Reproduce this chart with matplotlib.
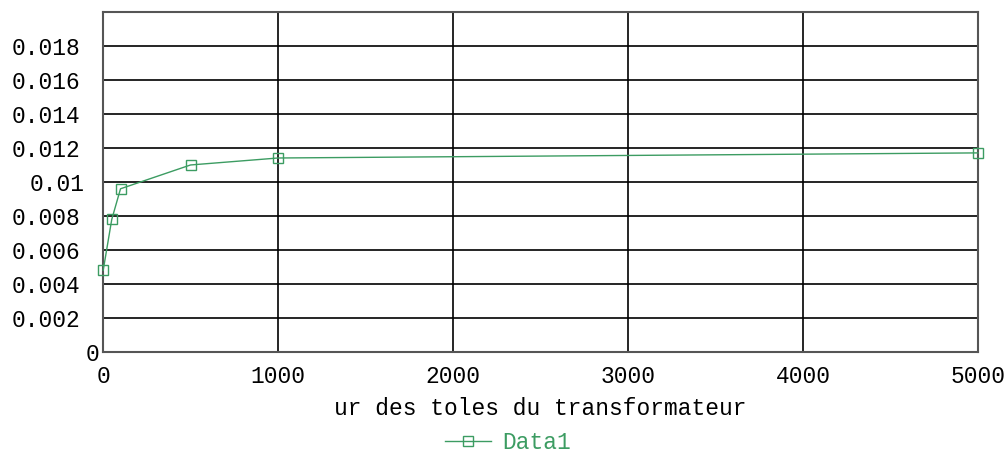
import matplotlib.pyplot as plt
from matplotlib.transforms import ScaledTranslation

# measured values
longueur = [1, 50, 100, 500, 1000, 5000]
valeurs = [0.0048, 0.0078, 0.0096, 0.0110, 0.01141, 0.01171]

xticks = [0, 1000, 2000, 3000, 4000, 5000]
yticks = [0, 0.002, 0.004, 0.006, 0.008, 0.01, 0.012, 0.014, 0.016, 0.018]
ylabels = ['0', '0.002', '0.004', '0.006', '0.008', '0.01', '0.012', '0.014', '0.016', '0.018']

green = '#3c9c62'
plt.rcParams['font.family'] = ['Liberation Mono', 'DejaVu Sans Mono']
fs = 16.5

fig = plt.figure(figsize=(10.06, 4.53), dpi=100)
ax = fig.add_axes([0.1024, 0.2230, 0.8698, 0.7506])

ax.plot(longueur, valeurs, color=green, lw=1.0, marker='s', ms=7,
        mfc='none', mec=green, mew=1.0, label='Data1', clip_on=False, zorder=3)

ax.set_xlim(0, 5000)
ax.set_ylim(0, 0.02)
ax.set_xticks(xticks)
ax.set_yticks(yticks)
ax.set_yticklabels(ylabels)
ax.tick_params(length=0, labelsize=fs, pad=9.5)
ax.tick_params(axis='y', pad=16)
ax.grid(True, color='black', lw=1.2)
for s in ax.spines.values():
    s.set_color('#555555')
    s.set_linewidth(1.5)

# the short labels sit a bit closer to the axis
for lbl, dx in zip(ax.get_yticklabels(), [0.19, 0, 0, 0, 0, 0.04, 0, 0, 0, 0]):
    if dx:
        lbl.set_transform(lbl.get_transform() + ScaledTranslation(dx, 0, fig.dpi_scale_trans))

ax.set_xlabel('ur des toles du transformateur', fontsize=fs, labelpad=6)

leg = ax.legend(loc='upper center', bbox_to_anchor=(0.463, -0.198), frameon=False,
                fontsize=fs, handlelength=2.0, markerscale=1.0, handletextpad=0.5,
                borderpad=0)
for t in leg.get_texts():
    t.set_color(green)

fig.savefig('out.png', dpi=100)
